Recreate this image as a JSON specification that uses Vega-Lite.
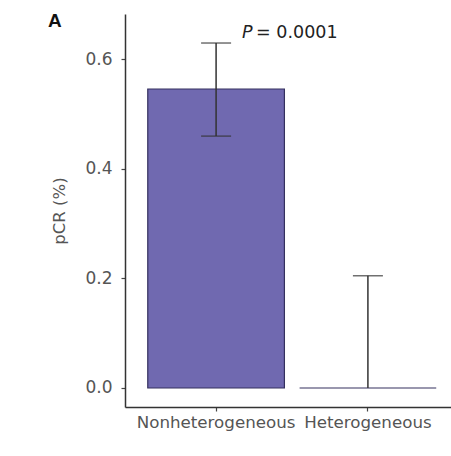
{
  "$schema": "https://vega.github.io/schema/vega-lite/v6.json",
  "autosize": {"type": "none"},
  "padding": {"left": 125, "top": 14, "right": 0, "bottom": 49},
  "width": 334,
  "height": 393,
  "background": "white",
  "title": {
    "text": "A",
    "anchor": "start",
    "frame": "group",
    "font": "Liberation Sans",
    "fontSize": 19,
    "fontWeight": "bold",
    "color": "#111111",
    "dx": -77,
    "dy": 21
  },
  "config": {
    "view": {"stroke": null},
    "axis": {
      "labelFont": "DejaVu Sans",
      "titleFont": "DejaVu Sans",
      "labelColor": "#555555",
      "titleColor": "#555555",
      "titleFontWeight": "normal",
      "domainColor": "#333333",
      "domainWidth": 1.5,
      "tickColor": "#444444",
      "tickWidth": 1.2,
      "tickSize": 4,
      "grid": false
    }
  },
  "data": {
    "values": [
      {"group": "Nonheterogeneous", "pcr": 0.546, "lo": 0.46, "hi": 0.63},
      {"group": "Heterogeneous", "pcr": 0.0, "lo": 0.0, "hi": 0.205}
    ]
  },
  "encoding": {
    "x": {
      "field": "group",
      "type": "nominal",
      "sort": ["Nonheterogeneous", "Heterogeneous"],
      "scale": {"paddingInner": 0.1, "paddingOuter": 0.15},
      "axis": {"title": null, "labelAngle": 0, "labelFontSize": 16.7, "labelPadding": 3}
    }
  },
  "layer": [
    {
      "mark": {"type": "bar", "fill": "#7069b0", "stroke": "#34305e", "strokeWidth": 1.2},
      "encoding": {
        "y": {
          "field": "pcr",
          "type": "quantitative",
          "scale": {"domain": [-0.0347, 0.683], "nice": false, "zero": false},
          "axis": {
            "title": "pCR (%)",
            "values": [0, 0.2, 0.4, 0.6],
            "format": ".1f",
            "labelFontSize": 17,
            "titleFontSize": 16.5,
            "labelPadding": 9,
            "titlePadding": 17
          }
        },
        "y2": {"datum": 0}
      }
    },
    {
      "mark": {"type": "rule", "color": "#333333", "strokeWidth": 1.5},
      "encoding": {
        "y": {"field": "lo", "type": "quantitative"},
        "y2": {"field": "hi"}
      }
    },
    {
      "mark": {"type": "tick", "color": "#333333", "thickness": 1.5, "size": 30, "orient": "horizontal"},
      "encoding": {"y": {"field": "hi", "type": "quantitative"}}
    },
    {
      "mark": {"type": "tick", "color": "#333333", "thickness": 1.5, "size": 30, "orient": "horizontal"},
      "transform": [{"filter": "datum.lo > 0"}],
      "encoding": {"y": {"field": "lo", "type": "quantitative"}}
    },
    {
      "data": {"values": [{"group": "Nonheterogeneous", "y": 0.648, "part1": "P", "part2": "= 0.0001"}]},
      "layer": [
        {
          "mark": {"type": "text", "font": "DejaVu Sans", "fontSize": 17.5, "fontStyle": "italic", "align": "left", "baseline": "middle", "dx": 26, "color": "#222222"},
          "encoding": {"y": {"field": "y", "type": "quantitative"}, "text": {"field": "part1"}}
        },
        {
          "mark": {"type": "text", "font": "DejaVu Sans", "fontSize": 17.5, "align": "left", "baseline": "middle", "dx": 40, "color": "#222222"},
          "encoding": {"y": {"field": "y", "type": "quantitative"}, "text": {"field": "part2"}}
        }
      ]
    }
  ]
}
